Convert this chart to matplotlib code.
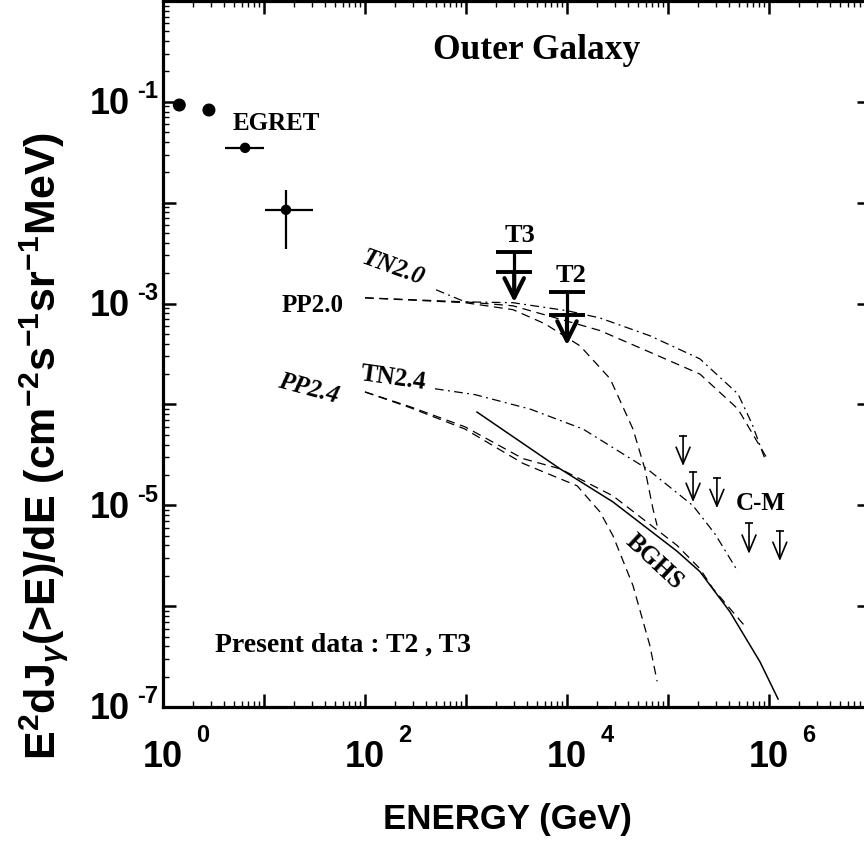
import numpy as np
import matplotlib
matplotlib.use("Agg")
import matplotlib.pyplot as plt
from matplotlib.ticker import LogLocator, NullFormatter

plt.rcParams["font.family"] = ["Liberation Sans", "DejaVu Sans"]
plt.rcParams["mathtext.fontset"] = "custom"
plt.rcParams["mathtext.rm"] = "Liberation Sans:bold"
plt.rcParams["mathtext.it"] = "Liberation Sans:bold:italic"
plt.rcParams["mathtext.bf"] = "Liberation Sans:bold"

SERIF = ["Liberation Serif", "DejaVu Serif"]

# EGRET points (GeV, flux) with energy bins and flux errors
egret_e = [1.45, 2.85, 6.5, 16.5]
egret_flux = [0.093, 0.083, 0.035, 0.0085]
egret_e_lo = [1.45, 2.85, 4.1, 10.2]
egret_e_hi = [1.45, 2.85, 10.0, 30.5]
egret_flux_lo = [0.093, 0.083, 0.035, 0.0035]
egret_flux_hi = [0.093, 0.083, 0.035, 0.0134]
egret_size = [70, 70, 42, 42]

# present upper limits T3, T2
ul_names = ["T3", "T2"]
ul_e = [3000.0, 1.0e4]
ul_flux = [2.06e-3, 7.7e-4]
ul_flux_hi = [3.25e-3, 1.31e-3]

# C-M upper limits
cm_e = [1.41e5, 1.77e5, 3.05e5, 6.34e5, 1.28e6]
cm_flux = [4.9e-5, 2.15e-5, 1.87e-5, 6.6e-6, 5.6e-6]

# model curves
tn20_e = [505, 980, 2920, 1.0e4, 2.12e4, 6.6e4, 2.07e5, 4.93e5, 6.8e5, 9.1e5]
tn20_f = [1.37e-3, 1.04e-3, 1.02e-3, 8.5e-4, 7.2e-4, 4.8e-4, 2.83e-4, 1.27e-4, 6.4e-5, 2.9e-5]

pp20_e = [100, 980, 2920, 1.0e4, 2.12e4, 6.6e4, 2.07e5, 4.93e5, 9.8e5]
pp20_f = [1.14e-3, 1.04e-3, 9.5e-4, 6.7e-4, 5.4e-4, 3.3e-4, 2.0e-4, 9.0e-5, 2.8e-5]

pp20cut_e = [100, 980, 2920, 6050, 1.35e4, 2.67e4, 4.5e4, 5.9e4, 7.1e4, 7.8e4]
pp20cut_f = [1.14e-3, 1.02e-3, 8.7e-4, 6.3e-4, 3.8e-4, 1.8e-4, 5.7e-5, 2.3e-5, 9.2e-6, 6.3e-6]

tn24_e = [493, 1230, 4300, 1.44e4, 6.2e4, 1.77e5, 2.92e5, 4.93e5]
tn24_f = [1.43e-4, 1.25e-4, 9.0e-5, 5.7e-5, 2.3e-5, 9.9e-6, 5.2e-6, 2.2e-6]

pp24_e = [100, 279, 977, 3670, 8530, 2.85e4, 1.23e5, 2.07e5, 2.79e5, 6.05e5]
pp24_f = [1.33e-4, 9.5e-5, 6.0e-5, 2.9e-5, 2.3e-5, 1.24e-5, 4.0e-6, 2.35e-6, 1.49e-6, 6.0e-7]

pp24cut_e = [100, 279, 977, 3670, 1.26e4, 2.12e4, 2.85e4, 4.5e4, 6.6e4, 7.8e4]
pp24cut_f = [1.33e-4, 9.3e-5, 5.7e-5, 2.6e-5, 1.56e-5, 8.6e-6, 5.0e-6, 1.6e-6, 4.1e-7, 1.8e-7]

bghs_e = [1285, 8530, 2.85e4, 1.23e5, 2.07e5, 4.1e5, 8.15e5, 1.23e6]
bghs_f = [8.4e-5, 2.3e-5, 1.08e-5, 3.5e-6, 2.2e-6, 8.8e-7, 2.8e-7, 1.2e-7]

x_label_decades = [0, 2, 4, 6]
y_label_decades = [-1, -3, -5, -7]


def log_tick_labels(ax):
    # "10" plus a raised exponent, drawn as separate texts
    xt = ax.get_xaxis_transform()
    for d in x_label_decades:
        ax.annotate("10", xy=(10.0 ** d, 0), xycoords=xt, xytext=(0, -50),
                    textcoords="offset pixels", ha="center", va="center",
                    fontsize=26, fontweight="bold", annotation_clip=False)
        ax.annotate(str(d), xy=(10.0 ** d, 0), xycoords=xt, xytext=(40, -28),
                    textcoords="offset pixels", ha="center", va="center",
                    fontsize=17, fontweight="bold", annotation_clip=False)
    yt = ax.get_yaxis_transform()
    for d in y_label_decades:
        ax.annotate("10", xy=(0, 10.0 ** d), xycoords=yt, xytext=(-33, -2),
                    textcoords="offset pixels", ha="right", va="center",
                    fontsize=26, fontweight="bold", annotation_clip=False)
        ax.annotate(str(d), xy=(0, 10.0 ** d), xycoords=yt, xytext=(-26, 11),
                    textcoords="offset pixels", ha="left", va="center",
                    fontsize=17, fontweight="bold", annotation_clip=False)


def main():
    fig = plt.figure(figsize=(8.64, 8.45), dpi=100)
    ax = fig.add_axes([163 / 864, 137 / 845, 707 / 864, 706 / 845])
    ax.set_xscale("log")
    ax.set_yscale("log")
    ax.set_xlim(1, 1e7)
    ax.set_ylim(1e-7, 1)

    for s in ax.spines.values():
        s.set_linewidth(2.3)
    ax.xaxis.set_major_locator(LogLocator(base=10, numticks=20))
    ax.yaxis.set_major_locator(LogLocator(base=10, numticks=20))
    ax.xaxis.set_minor_locator(LogLocator(base=10, subs=np.arange(2, 10), numticks=100))
    ax.yaxis.set_minor_locator(LogLocator(base=10, subs=np.arange(2, 10), numticks=100))
    ax.xaxis.set_major_formatter(NullFormatter())
    ax.yaxis.set_major_formatter(NullFormatter())
    ax.xaxis.set_minor_formatter(NullFormatter())
    ax.yaxis.set_minor_formatter(NullFormatter())
    ax.tick_params(which="both", direction="in", top=True, right=True)
    ax.tick_params(which="major", length=9.5, width=1.8)
    ax.tick_params(which="minor", length=4.5, width=1.0)
    log_tick_labels(ax)

    dash = (0, (7, 4.5))
    dashdot = (0, (7, 3.5, 1.5, 3.5))
    lw = 0.9
    ax.plot(tn20_e, tn20_f, color="black", lw=lw, ls=dashdot)
    ax.plot(pp20_e, pp20_f, color="black", lw=lw, ls=dash)
    ax.plot(pp20cut_e, pp20cut_f, color="black", lw=lw, ls=dash)
    ax.plot(tn24_e, tn24_f, color="black", lw=lw, ls=dashdot)
    ax.plot(pp24_e, pp24_f, color="black", lw=lw, ls=dash)
    ax.plot(pp24cut_e, pp24cut_f, color="black", lw=lw, ls=dash)
    ax.plot(bghs_e, bghs_f, color="black", lw=1.1, ls="-")

    # EGRET
    e = np.array(egret_e)
    f = np.array(egret_flux)
    xerr = [e - np.array(egret_e_lo), np.array(egret_e_hi) - e]
    yerr = [f - np.array(egret_flux_lo), np.array(egret_flux_hi) - f]
    ax.errorbar(e, f, xerr=xerr, yerr=yerr, fmt="none", ecolor="black",
                elinewidth=1.6, capsize=0)
    ax.scatter(e, f, s=egret_size, color="black", zorder=3)

    # T3 / T2 upper limits
    for name, ex, fl, fh in zip(ul_names, ul_e, ul_flux, ul_flux_hi):
        ax.plot([ex, ex], [fl, fh], color="black", lw=2.3)
        ax.plot([ex, ex], [fl, fh], ls="none", marker="_", ms=26, mew=2.8,
                color="black")
        ax.annotate("", xy=(ex, fl / 2.0), xytext=(ex, fl),
                    arrowprops=dict(arrowstyle="->,head_length=0.7,head_width=0.35",
                                    mutation_scale=20, lw=3.0, color="black",
                                    shrinkA=0, shrinkB=0))

    # C-M upper limits
    for ex, fl in zip(cm_e, cm_flux):
        ax.plot([ex], [fl], ls="none", marker="_", ms=6, mew=1.2, color="black")
        ax.annotate("", xy=(ex, fl / 2.0), xytext=(ex, fl),
                    arrowprops=dict(arrowstyle="->,head_length=0.6,head_width=0.25",
                                    mutation_scale=20, lw=1.2, color="black",
                                    shrinkA=0, shrinkB=0))

    bold = dict(family=SERIF, fontweight="bold", ha="center", va="center")
    ax.text(0.529, 0.932, "Outer Galaxy", transform=ax.transAxes, fontsize=25.5, **bold)
    ax.text(13.2, 0.0618, "EGRET", fontsize=18, **bold)
    ax.text(3430, 4.8e-3, "T3", fontsize=19, **bold)
    ax.text(1.1e4, 1.92e-3, "T2", fontsize=19, **bold)
    ax.text(30.5, 9.9e-4, "PP2.0", fontsize=18, **bold)
    ax.text(189, 2.31e-3, "TN2.0", fontsize=18, rotation=-20, style="italic", **bold)
    ax.text(189, 1.88e-4, "TN2.4", fontsize=18, rotation=-8, **bold)
    ax.text(27.3, 1.46e-4, "PP2.4", fontsize=18, rotation=-15, style="italic", **bold)
    ax.text(7.4e4, 2.8e-6, "BGHS", fontsize=18, rotation=-43, **bold)
    ax.text(8.3e5, 1.06e-5, "C-M", fontsize=18, **bold)
    ax.text(60.5, 4.24e-7, "Present data : T2 , T3", fontsize=20, **bold)

    ax.set_xlabel("ENERGY (GeV)", fontweight="bold", fontsize=25, va="center")
    ax.xaxis.set_label_coords((507 - 163) / 707, -(820 - 708) / 706)
    ax.set_ylabel(r"E$^{2}$dJ$_{\gamma}$(>E)/dE (cm$^{-2}$s$^{-1}$sr$^{-1}$MeV)",
                  fontweight="bold", fontsize=31, va="center")
    ax.yaxis.set_label_coords(-(163 - 44) / 707, (708 - 446) / 706)

    fig.savefig("out.png", dpi=100)
    plt.close(fig)


if __name__ == "__main__":
    main()
